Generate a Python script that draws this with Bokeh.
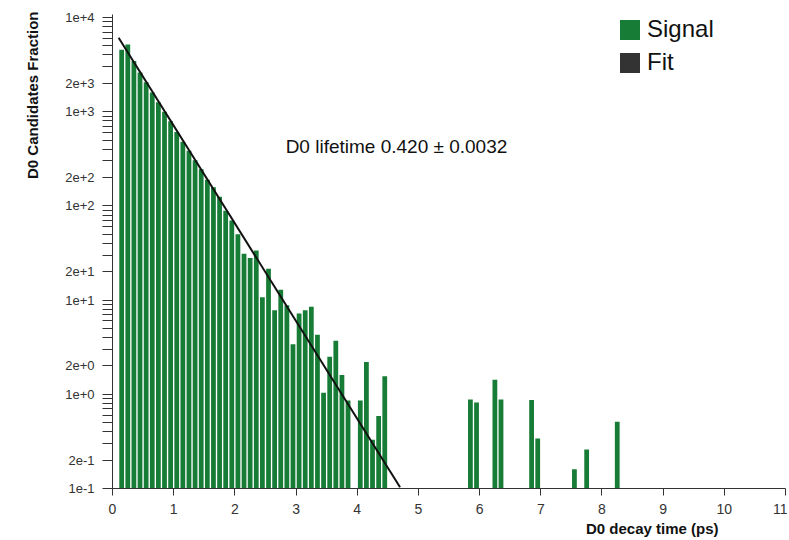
from bokeh.plotting import figure
from bokeh.models import (Range1d, FixedTicker, CustomJSTickFormatter, Label,
                          Legend, LegendItem, ColumnDataSource, Title)
from bokeh.embed import file_html
from bokeh.resources import INLINE

# ---- data ----
bin_centers = [0.15, 0.25, 0.35, 0.45, 0.55, 0.65, 0.75, 0.85, 0.95, 1.05,
               1.15, 1.25, 1.35, 1.45, 1.55, 1.65, 1.75, 1.85, 1.95, 2.05,
               2.15, 2.25, 2.35, 2.45, 2.55, 2.65, 2.75, 2.85, 2.95, 3.05,
               3.15, 3.25, 3.35, 3.45, 3.55, 3.65, 3.75, 3.85, 4.05, 4.15,
               4.25, 4.35, 4.45, 5.85, 5.95, 6.25, 6.35, 6.85, 6.95, 7.55,
               7.75, 8.25]
signal_values = [4540, 5170, 3450, 2600, 2050, 1600, 1260, 1000, 790, 610,
                 480, 385, 305, 245, 190, 158, 125, 89, 70, 50,
                 31, 28, 33.6, 10.7, 21.5, 7.8, 12.9, 8.8, 3.4, 7.2,
                 7.8, 8.5, 4.3, 1.04, 2.5, 3.7, 1.6, 0.86, 0.86, 2.2,
                 0.33, 0.59, 1.55, 0.88, 0.82, 1.43, 0.88, 0.87, 0.34, 0.16,
                 0.26, 0.51]
fit_t = [0.1, 4.7]
fit_values = [6100, 0.103]
x_ticks = [0, 1, 2, 3, 4, 5, 6, 7, 8, 9, 10, 11]
y_major_ticks = [0.1, 0.2, 1, 2, 10, 20, 100, 200, 1000, 2000, 10000]
y_minor_ticks = [0.3, 0.4, 0.5, 0.6, 0.7, 0.8, 0.9,
                 3, 4, 5, 6, 7, 8, 9,
                 30, 40, 50, 60, 70, 80, 90,
                 300, 400, 500, 600, 700, 800, 900,
                 3000, 4000, 5000, 6000, 7000, 8000, 9000]
lifetime_text = "D0 lifetime 0.420 ± 0.0032"
x_title = "D0 decay time (ps)"
y_title = "D0 Candidates Fraction"

GREEN = "#177c36"
FONT = "Liberation Sans"

W, H = 787, 540
p = figure(width=W, height=H,
           x_range=Range1d(0, 11), y_range=Range1d(0.1, 10760),
           y_axis_type="log", output_backend="svg", toolbar_location=None,
           min_border_left=112, min_border_right=W - 785,
           min_border_top=14, min_border_bottom=H - 488)
p.title.visible = False
p.xgrid.visible = False
p.ygrid.visible = False
p.outline_line_color = None
p.background_fill_color = "white"

src = ColumnDataSource(data=dict(t=bin_centers, v=signal_values))
bars = p.vbar(x="t", top="v", bottom=0.001, width=0.078, source=src,
              fill_color=GREEN, line_color=None)
fit_square = p.vbar(x=fit_t, top=fit_values, bottom=0.001, width=0.078,
                    fill_color="#333333", line_color=None, visible=False)
p.line(fit_t, fit_values, line_color="#111111", line_width=2)

# axes
xa = p.xaxis[0]
xa.ticker = FixedTicker(ticks=x_ticks)
xa.major_tick_out = 7
xa.major_tick_in = 0
xa.minor_tick_out = 0
xa.minor_tick_in = 0
xa.axis_line_color = "#333333"
xa.major_tick_line_color = "#333333"
xa.major_label_text_font = FONT
xa.major_label_text_font_size = "14px"
xa.major_label_text_color = "#333333"
xa.major_label_standoff = 8

ya = p.yaxis[0]
ya.ticker = FixedTicker(ticks=y_major_ticks, minor_ticks=y_minor_ticks)
ya.formatter = CustomJSTickFormatter(code="return tick.toExponential(0);")
ya.major_tick_out = 10
ya.major_tick_in = 0
ya.minor_tick_out = 10
ya.minor_tick_in = 0
ya.axis_line_color = "#333333"
ya.major_tick_line_color = "#333333"
ya.minor_tick_line_color = "#333333"
ya.major_label_text_font = FONT
ya.major_label_text_font_size = "13px"
ya.major_label_text_color = "#333333"
ya.major_label_standoff = 8

# axis titles (placed at the ends of the axes, as in the reference)
p.add_layout(Title(text=y_title, align="right", offset=-3, standoff=43,
                   text_font=FONT, text_font_style="bold",
                   text_font_size="15px", text_color="#111111"), "left")
p.add_layout(Title(text=x_title, align="right", offset=67, standoff=3,
                   text_font=FONT, text_font_style="bold",
                   text_font_size="15px", text_color="#111111"), "below")

p.add_layout(Label(x=2.83, y=427, text=lifetime_text,
                   text_align="left", text_baseline="middle",
                   text_font=FONT, text_font_size="19px", text_color="#111111"))

legend = Legend(items=[LegendItem(label="Signal", renderers=[bars]),
                       LegendItem(label="Fit", renderers=[fit_square])],
                location=(505, 412), padding=0, margin=0, spacing=5,
                glyph_width=25, glyph_height=25, label_standoff=5,
                label_height=28, label_width=75,
                label_text_font=FONT, label_text_font_size="24px",
                label_text_color="#111111", inactive_fill_alpha=0,
                border_line_color=None, background_fill_alpha=0)
p.add_layout(legend, "center")

open("out.html", "w").write(file_html(p, INLINE))
